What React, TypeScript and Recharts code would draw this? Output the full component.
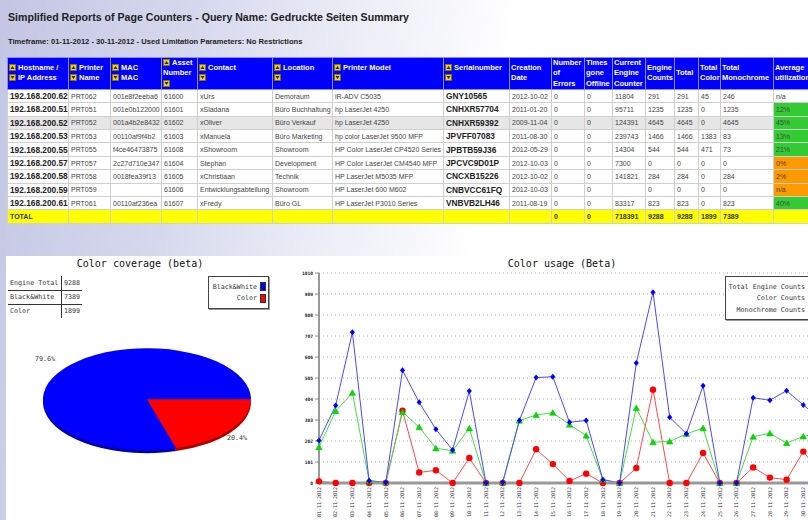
import React from "react";
import { LineChart, Line, XAxis, YAxis, CartesianGrid, PieChart, Pie, Cell } from "recharts";

// ---- table data ----
const hostnames = ["192.168.200.62", "192.168.200.51", "192.168.200.52", "192.168.200.53", "192.168.200.55", "192.168.200.57", "192.168.200.58", "192.168.200.59", "192.168.200.61"];
const printerNames = ["PRT062", "PRT051", "PRT052", "PRT053", "PRT055", "PRT057", "PRT058", "PRT059", "PRT061"];
const macs = ["001e8f2eeba6", "001e0b122000", "001a4b2e8432", "00110af9f4b2", "f4ce46473875", "2c27d710e347", "0018fea39f13", "", "00110af236ea"];
const assetNumbers = ["61600", "61601", "61602", "61603", "61608", "61604", "61605", "61606", "61607"];
const contacts = ["xUrs", "xSladana", "xOliver", "xManuela", "xShowroom", "Stephan", "xChristiaan", "Entwicklungsabteilung", "xFredy"];
const locations = ["Demoraum", "Büro Buchhaltung", "Büro Verkauf", "Büro Marketing", "Showroom", "Development", "Technik", "Showroom", "Büro GL"];
const printerModels = ["iR-ADV C5035", "hp LaserJet 4250", "hp LaserJet 4250", "hp color LaserJet 9500 MFP", "HP Color LaserJet CP4520 Series", "HP Color LaserJet CM4540 MFP", "HP LaserJet M5035 MFP", "HP LaserJet 600 M602", "HP LaserJet P3010 Series"];
const serialNumbers = ["GNY10565", "CNHXR57704", "CNHXR59392", "JPVFF07083", "JPBTB59J36", "JPCVC9D01P", "CNCXB15226", "CNBVCC61FQ", "VNBVB2LH46"];
const creationDates = ["2012-10-02", "2011-01-20", "2009-11-04", "2011-08-30", "2012-05-29", "2012-10-03", "2012-10-02", "2012-10-03", "2011-08-19"];
const errorCounts = [0, 0, 0, 0, 0, 0, 0, 0, 0];
const offlineCounts = [0, 0, 0, 0, 0, 0, 0, 0, 0];
const engineCounters = [11804, 95711, 124391, 239743, 14304, 7300, 141821, null, 83317];
const engineCounts = [291, 1235, 4645, 1466, 544, 0, 284, 0, 823];
const totalCounts = [291, 1235, 4645, 1466, 544, 0, 284, 0, 823];
const colorTotals = [45, 0, 0, 1383, 471, 0, 0, 0, 0];
const monoTotals = [246, 1235, 4645, 83, 73, 0, 284, 0, 823];
const utilization = ["n/a", "12%", "45%", "13%", "21%", "0%", "2%", "n/a", "40%"];
const utilLevel = ["none", "ok", "ok", "ok", "ok", "low", "low", "low", "ok"];

const headerLines = [
  ["▲Hostname /", "▼IP Address"],
  ["▲Printer", "▼Name"],
  ["▲MAC", "▼MAC"],
  ["▲Asset", "Number", "▼"],
  ["▲Contact", "▼"],
  ["▲Location", "▼"],
  ["▲Printer Model", "▼"],
  ["▲Serialnumber", "▼"],
  ["Creation", "Date"],
  ["Number", "of", "Errors"],
  ["Times", "gone", "Offline"],
  ["Current", "Engine", "Counter"],
  ["Engine", "Counts"],
  ["Total"],
  ["Total", "Color"],
  ["Total", "Monochrome"],
  ["Average", "utilization"],
];

// ---- pie data ----
const coverageNames = ["Black&White", "Color"];
const coverageValues = [7389, 1899];
const engineTotal = 9288;

// ---- line chart data ----
const days = [
  "01-11-2012", "02-11-2012", "03-11-2012", "04-11-2012", "05-11-2012", "06-11-2012", "07-11-2012", "08-11-2012",
  "09-11-2012", "10-11-2012", "11-11-2012", "12-11-2012", "13-11-2012", "14-11-2012", "15-11-2012", "16-11-2012",
  "17-11-2012", "18-11-2012", "19-11-2012", "20-11-2012", "21-11-2012", "22-11-2012", "23-11-2012", "24-11-2012",
  "25-11-2012", "26-11-2012", "27-11-2012", "28-11-2012", "29-11-2012", "30-11-2012", "01-12-2012",
];
const totalEngineCounts = [205, 373, 725, 11, 3, 542, 388, 258, 159, 442, 0, 3, 300, 507, 511, 292, 301, 16, 0, 577, 918, 316, 237, 468, 0, 0, 410, 398, 444, 375, 310];
const colorCounts = [8, 0, 0, 0, 0, 348, 51, 61, 0, 120, 0, 0, 0, 162, 91, 10, 45, 0, 0, 72, 449, 0, 0, 144, 0, 0, 75, 26, 16, 151, 50];
const monoCounts = [173, 346, 434, 11, 3, 341, 269, 167, 155, 263, 0, 3, 300, 327, 338, 281, 228, 16, 0, 361, 196, 200, 236, 264, 0, 0, 223, 239, 192, 224, 240];
const yTicks = [0, 101, 202, 303, 404, 505, 606, 707, 808, 909, 1010];
const seriesNames = ["Total Engine Counts", "Color Counts", "Monochrome Counts"];

const colWidths = [61, 42, 51, 36, 75, 60, 111, 66, 42, 33, 28, 33, 29, 24, 22, 53, 60];
const mono = "'DejaVu Sans Mono', monospace";

const SortIcon = ({ up }: { up: boolean }) => (
  <svg width={7} height={7} style={{ verticalAlign: "-1px", marginRight: 2 }}>
    <rect x={0.5} y={0.5} width={6} height={6} fill="#f2d400" stroke="#8a7400" strokeWidth={0.8} />
    <polygon points={up ? "1.5,5 5.5,5 3.5,2" : "1.5,2 5.5,2 3.5,5"} fill="#222" />
  </svg>
);

function HeaderLine({ text }: { text: string }) {
  if (text.startsWith("▲")) return <div><SortIcon up />{text.slice(1)}</div>;
  if (text.startsWith("▼")) return <div><SortIcon up={false} />{text.slice(1)}</div>;
  return <div>{text}</div>;
}

function ReportTable() {
  const cell: React.CSSProperties = {
    border: "1px solid #cfcfcf",
    padding: "0 2px",
    fontSize: 7,
    color: "#444",
    whiteSpace: "nowrap",
    overflow: "hidden",
    verticalAlign: "middle",
  };
  const bold: React.CSSProperties = { ...cell, fontWeight: "bold", fontSize: 8.3, color: "#222" };
  const head: React.CSSProperties = {
    border: "1px solid #8c8cff",
    padding: "0 0 0 1px",
    background: "#0000ff",
    color: "#fff",
    fontWeight: "bold",
    fontSize: 7.5,
    lineHeight: "10.3px",
    textAlign: "left",
    verticalAlign: "middle",
    whiteSpace: "nowrap",
    overflow: "hidden",
  };
  const tot: React.CSSProperties = { ...cell, background: "#ffff00", fontWeight: "bold", color: "#333", fontSize: 7 };
  const sum = (a: (number | null)[]) => a.reduce<number>((s, v) => s + (v ?? 0), 0);
  return (
    <table style={{ position: "absolute", left: 7, top: 57, borderCollapse: "collapse", tableLayout: "fixed", width: colWidths.reduce((a, b) => a + b, 0), fontFamily: "'Liberation Sans', Arial, sans-serif" }}>
      <colgroup>
        {colWidths.map((w, i) => <col key={i} style={{ width: w }} />)}
      </colgroup>
      <tbody>
        <tr style={{ height: 31 }}>
          {headerLines.map((lines, i) => (
            <th key={i} style={head}>{lines.map((l, j) => <HeaderLine key={j} text={l} />)}</th>
          ))}
        </tr>
        {hostnames.map((h, i) => (
          <tr key={h} style={{ height: 13.4, background: i === 2 ? "#e6e6e6" : "#fff" }}>
            <td style={bold}>{h}</td>
            <td style={cell}>{printerNames[i]}</td>
            <td style={cell}>{macs[i]}</td>
            <td style={cell}>{assetNumbers[i]}</td>
            <td style={cell}>{contacts[i]}</td>
            <td style={cell}>{locations[i]}</td>
            <td style={cell}>{printerModels[i]}</td>
            <td style={bold}>{serialNumbers[i]}</td>
            <td style={cell}>{creationDates[i]}</td>
            <td style={cell}>{errorCounts[i]}</td>
            <td style={cell}>{offlineCounts[i]}</td>
            <td style={cell}>{engineCounters[i] ?? ""}</td>
            <td style={cell}>{engineCounts[i]}</td>
            <td style={cell}>{totalCounts[i]}</td>
            <td style={cell}>{colorTotals[i]}</td>
            <td style={cell}>{monoTotals[i]}</td>
            <td style={{ ...cell, background: utilLevel[i] === "ok" ? "#33cc33" : utilLevel[i] === "low" ? "#ff9900" : "#fff" }}>{utilization[i]}</td>
          </tr>
        ))}
        <tr style={{ height: 13.4 }}>
          <td style={tot}>TOTAL</td>
          {[0, 1, 2, 3, 4, 5, 6, 7].map((k) => <td key={k} style={tot}></td>)}
          <td style={tot}>{sum(errorCounts)}</td>
          <td style={tot}>{sum(offlineCounts)}</td>
          <td style={tot}>{sum(engineCounters)}</td>
          <td style={tot}>{sum(engineCounts)}</td>
          <td style={tot}>{sum(totalCounts)}</td>
          <td style={tot}>{sum(colorTotals)}</td>
          <td style={tot}>{sum(monoTotals)}</td>
          <td style={tot}></td>
        </tr>
      </tbody>
    </table>
  );
}

function CoverageChart() {
  const pieData = coverageNames.map((n, i) => ({ name: n, value: coverageValues[i] }));
  const fills = ["#0000ff", "#ff0000"];
  const rims = ["#0000a8", "#a80000"];
  const pct = coverageValues.map((v) => ((v / engineTotal) * 100).toFixed(1) + "%");
  const small: React.CSSProperties = { position: "absolute", fontFamily: mono, fontSize: 6.7, color: "#333", lineHeight: "8px" };
  const tableRows = [["Engine Total", engineTotal], ["Black&White", coverageValues[0]], ["Color", coverageValues[1]]];
  return (
    <>
      <div style={{ position: "absolute", left: 40, top: 258, width: 200, textAlign: "center", fontFamily: mono, fontSize: 10, color: "#111" }}>Color coverage (beta)</div>
      {tableRows.map((r, i) => (
        <React.Fragment key={i}>
          <div style={{ ...small, left: 10, top: 279 + i * 14 }}>{r[0]}</div>
          <div style={{ ...small, left: 64, top: 279 + i * 14 }}>{r[1]}</div>
        </React.Fragment>
      ))}
      <div style={{ position: "absolute", left: 61, top: 276, width: 1, height: 42, background: "#333" }} />
      <div style={{ position: "absolute", left: 8, top: 290, width: 74, height: 1, background: "#333" }} />
      <div style={{ position: "absolute", left: 8, top: 304, width: 74, height: 1, background: "#333" }} />
      <div style={{ position: "absolute", left: 208, top: 276, width: 59, height: 31, border: "1px solid #444", boxShadow: "1px 1px 0 #999", background: "#fff" }}>
        {coverageNames.map((n, i) => (
          <div key={n} style={{ position: "absolute", right: 2, top: 5 + i * 11.5, display: "flex", alignItems: "center", fontFamily: mono, fontSize: 6.7, color: "#333" }}>
            <span>{n}</span>
            <span style={{ display: "inline-block", width: 4, height: 7, marginLeft: 3, background: fills[i], border: "1px solid #333" }} />
          </div>
        ))}
      </div>
      <div style={{ position: "absolute", left: 21.7, top: 337.9, transform: "scaleY(0.49)", transformOrigin: "top left" }}>
        <PieChart width={240} height={240}>
          <Pie data={pieData} dataKey="value" cx={120} cy={126} outerRadius={104} startAngle={0} endAngle={360} stroke="none" isAnimationActive={false}>
            {pieData.map((d, i) => <Cell key={d.name} fill={rims[i]} />)}
          </Pie>
          <Pie data={pieData} dataKey="value" cx={120} cy={120} outerRadius={104} startAngle={0} endAngle={360} stroke="none" isAnimationActive={false}>
            {pieData.map((d, i) => <Cell key={d.name} fill={fills[i]} />)}
          </Pie>
        </PieChart>
      </div>
      <div style={{ ...small, left: 35, top: 355 }}>{pct[0]}</div>
      <div style={{ ...small, left: 227, top: 434 }}>{pct[1]}</div>
    </>
  );
}

const BlueDot = (p: any) => {
  const { cx, cy, index } = p;
  if (cx == null || cy == null) return <g key={index} />;
  return <polygon key={index} points={`${cx},${cy - 3} ${cx + 2.6},${cy} ${cx},${cy + 3} ${cx - 2.6},${cy}`} fill="#0000ff" />;
};
const GreenDot = (p: any) => {
  const { cx, cy, index } = p;
  if (cx == null || cy == null) return <g key={index} />;
  return <polygon key={index} points={`${cx - 3.2},${cy + 2.6} ${cx + 3.2},${cy + 2.6} ${cx},${cy - 3}`} fill="#00e000" stroke="#00b000" strokeWidth={0.5} />;
};
const RedDot = (p: any) => {
  const { cx, cy, index } = p;
  if (cx == null || cy == null) return <g key={index} />;
  return <circle key={index} cx={cx} cy={cy} r={3.2} fill="#ff0000" />;
};

const DayTick = (p: any) => {
  const { x, y, payload } = p;
  return (
    <text x={x} y={y} transform={`rotate(-90 ${x} ${y})`} textAnchor="end" dy="0.35em" fontSize={5} fontFamily={mono} fill="#333">
      {payload.value}
    </text>
  );
};

function UsageChart() {
  const data = days.map((d, i) => ({ day: d, total: totalEngineCounts[i], color: colorCounts[i], mono: monoCounts[i] }));
  const legendColors = ["#0000ff", "#ff0000", "#00e000"];
  return (
    <>
      <div style={{ position: "absolute", left: 462, top: 258, width: 200, textAlign: "center", fontFamily: mono, fontSize: 10, color: "#111" }}>Color usage (Beta)</div>
      <div style={{ position: "absolute", left: 290, top: 250 }}>
        <LineChart width={540} height={270} data={data} margin={{ top: 23, right: 10, bottom: 0, left: 0 }}>
          <CartesianGrid vertical={false} stroke="#b0b0b0" strokeDasharray="1 3" />
          <XAxis dataKey="day" height={37} interval={0} tickLine={false} tickSize={2} tickMargin={2} axisLine={{ stroke: "#999", strokeWidth: 3 }} tick={<DayTick />} />
          <YAxis width={29} domain={[0, 1010]} ticks={yTicks} interval={0} tickSize={4} tickMargin={2} tickLine={{ stroke: "#888" }} axisLine={{ stroke: "#999", strokeWidth: 2 }} tick={{ fontSize: 4.6, fontFamily: mono, fontWeight: "bold", fill: "#222" }} />
          <Line dataKey="color" stroke="#ff4a4a" strokeWidth={1} dot={RedDot} isAnimationActive={false} />
          <Line dataKey="mono" stroke="#44e044" strokeWidth={1} dot={GreenDot} isAnimationActive={false} />
          <Line dataKey="total" stroke="#4a4aff" strokeWidth={1} dot={BlueDot} isAnimationActive={false} />
        </LineChart>
      </div>
      <div style={{ position: "absolute", left: 725, top: 276, width: 110, height: 42, border: "1px solid #444", boxShadow: "1px 1px 0 #999", background: "#fff" }}>
        {seriesNames.map((n, i) => (
          <div key={n} style={{ position: "absolute", right: 7, top: 6 + i * 11.4, display: "flex", alignItems: "center", fontFamily: mono, fontSize: 6.7, color: "#333" }}>
            <span>{n}</span>
            <span style={{ display: "inline-block", width: 18, height: 1, marginLeft: 6, background: legendColors[i] }} />
          </div>
        ))}
      </div>
    </>
  );
}

export default function App() {
  return (
    <div
      style={{
        position: "relative",
        width: 808,
        height: 520,
        overflow: "hidden",
        background: "linear-gradient(100deg, #c2c6e3 0%, #d6d9ed 22%, #eeeff7 42%, #ffffff 58%)",
        fontFamily: "'Liberation Sans', Arial, sans-serif",
      }}
    >
      <style>{"body{margin:0}"}</style>
      <div style={{ position: "absolute", left: 8, top: 11, fontSize: 10.6, fontWeight: "bold", color: "#222" }}>
        Simplified Reports of Page Counters - Query Name: Gedruckte Seiten Summary
      </div>
      <div style={{ position: "absolute", left: 8, top: 37, fontSize: 7.6, fontWeight: "bold", color: "#222" }}>
        Timeframe: 01-11-2012 - 30-11-2012 - Used Limitation Parameters: No Restrictions
      </div>
      <ReportTable />
      <div style={{ position: "absolute", left: 6, top: 256, right: 0, bottom: 0, background: "#fff" }} />
      <CoverageChart />
      <UsageChart />
    </div>
  );
}
